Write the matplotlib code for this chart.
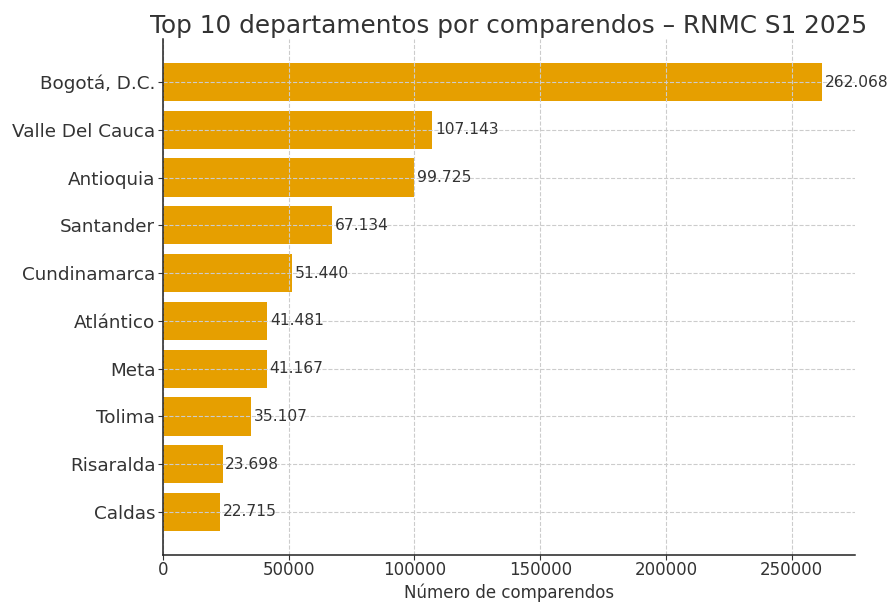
import matplotlib
matplotlib.use("Agg")
import matplotlib.pyplot as plt

departamentos = ["Bogotá, D.C.", "Valle Del Cauca", "Antioquia", "Santander", "Cundinamarca",
                 "Atlántico", "Meta", "Tolima", "Risaralda", "Caldas"]
comparendos = [262068, 107143, 99725, 67134, 51440, 41481, 41167, 35107, 23698, 22715]

txt = "#333333"
plt.rcParams["font.family"] = "DejaVu Sans"
fig = plt.figure(figsize=(8.93, 6.03), dpi=100)
ax = fig.add_axes([0.1825, 0.0804, 0.775, 0.8541])

bars = ax.barh(departamentos, comparendos, color="#E69F00", height=0.8)
ax.invert_yaxis()

for b, v in zip(bars, comparendos):
    lab = f"{v:,}".replace(",", ".")
    ax.annotate(lab, (b.get_width(), b.get_y() + b.get_height() / 2),
                xytext=(2, 0), textcoords="offset points", va="center", ha="left",
                fontsize=11.2, color=txt)

ax.set_title("Top 10 departamentos por comparendos – RNMC S1 2025", fontsize=17.8, color=txt, pad=5)
ax.set_xlabel("Número de comparendos", fontsize=12, color=txt, labelpad=3)
ax.tick_params(axis="y", labelsize=13.2, colors=txt, pad=2)
ax.tick_params(axis="x", labelsize=12, colors=txt, pad=1.5)
ax.grid(True, linestyle="--", color="#cccccc", linewidth=0.8)
ax.set_axisbelow(False)
for s in ["top", "right"]:
    ax.spines[s].set_visible(False)
for s in ["left", "bottom"]:
    ax.spines[s].set_color("#222222")
    ax.spines[s].set_linewidth(1.1)
    ax.spines[s].set_zorder(5)

fig.savefig("out.png", dpi=100)
